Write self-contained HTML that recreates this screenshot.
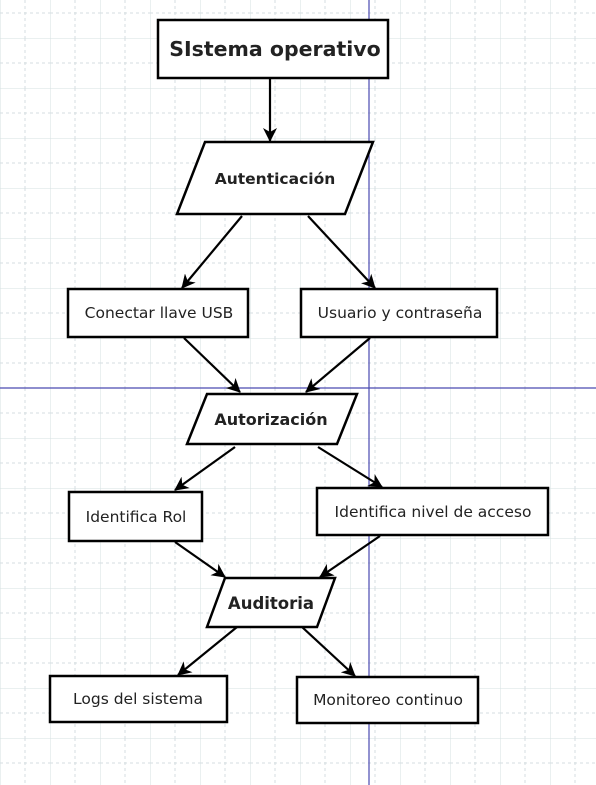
<!DOCTYPE html>
<html><head><meta charset="utf-8"><style>
html,body{margin:0;padding:0;background:#fff;}
svg{display:block}
text{font-family:"DejaVu Sans","Liberation Sans",sans-serif;fill:#222;}
</style></head><body>
<svg width="596" height="785" viewBox="0 0 596 785" xmlns="http://www.w3.org/2000/svg">
<defs>
<pattern id="g" width="50" height="50" patternUnits="userSpaceOnUse" x="0" y="-12">
<path d="M25 0V50M0 25H50" stroke="#d6dde0" stroke-dasharray="3,3" fill="none"/>
<path d="M0 0V50M0 0H50" stroke="#d6e0e2" fill="none"/>
</pattern>
<marker id="a" markerWidth="16" markerHeight="14" refX="13" refY="7" orient="auto" markerUnits="userSpaceOnUse">
<path d="M0 0L14 7L0 14L4 7Z" fill="#000"/>
</marker>
</defs>
<rect width="596" height="785" fill="url(#g)"/>
<line x1="369" y1="0" x2="369" y2="785" stroke="#4a4ab0" stroke-width="1.2"/>
<line x1="0" y1="388" x2="596" y2="388" stroke="#4a4ab0" stroke-width="1.2"/>
<g stroke="#000" stroke-width="2.2" marker-end="url(#a)">
<line x1="270" y1="78" x2="270" y2="141"/>
<line x1="242" y1="216" x2="182" y2="288"/>
<line x1="308" y1="216" x2="375" y2="288"/>
<line x1="184" y1="338" x2="240" y2="392"/>
<line x1="370" y1="338" x2="306" y2="392"/>
<line x1="235" y1="447" x2="175" y2="490"/>
<line x1="318" y1="447" x2="382" y2="487"/>
<line x1="175" y1="542" x2="225" y2="577"/>
<line x1="380" y1="536" x2="320" y2="577"/>
<line x1="237" y1="627" x2="178" y2="675"/>
<line x1="302" y1="627" x2="355" y2="676"/>
</g>
<g fill="#fff" stroke="#000" stroke-width="2.5">
<rect x="158" y="20" width="230" height="58"/>
<polygon points="205,142 373,142 345,214 177,214"/>
<rect x="68" y="289" width="180" height="48"/>
<rect x="301" y="289" width="196" height="48"/>
<polygon points="207,394 357,394 337,444 187,444"/>
<rect x="69" y="492" width="133" height="49"/>
<rect x="317" y="488" width="231" height="47"/>
<polygon points="225,578 335,578 317,627 207,627"/>
<rect x="50" y="676" width="177" height="46"/>
<rect x="297" y="677" width="181" height="46"/>
</g>
<text x="275" y="56" font-size="20.5" font-weight="bold" text-anchor="middle">SIstema operativo</text>
<text x="275" y="184" font-size="15.5" font-weight="bold" text-anchor="middle">Autenticación</text>
<text x="159" y="318" font-size="15.5" text-anchor="middle">Conectar llave USB</text>
<text x="400" y="318" font-size="15.5" text-anchor="middle">Usuario y contraseña</text>
<text x="271" y="425" font-size="16" font-weight="bold" text-anchor="middle">Autorización</text>
<text x="136" y="522" font-size="15.5" text-anchor="middle">Identifica Rol</text>
<text x="433" y="517" font-size="15.5" text-anchor="middle">Identifica nivel de acceso</text>
<text x="271" y="609" font-size="16.5" font-weight="bold" text-anchor="middle">Auditoria</text>
<text x="138" y="704" font-size="15.5" text-anchor="middle">Logs del sistema</text>
<text x="388" y="705" font-size="15.5" text-anchor="middle">Monitoreo continuo</text>
</svg>
</body></html>
